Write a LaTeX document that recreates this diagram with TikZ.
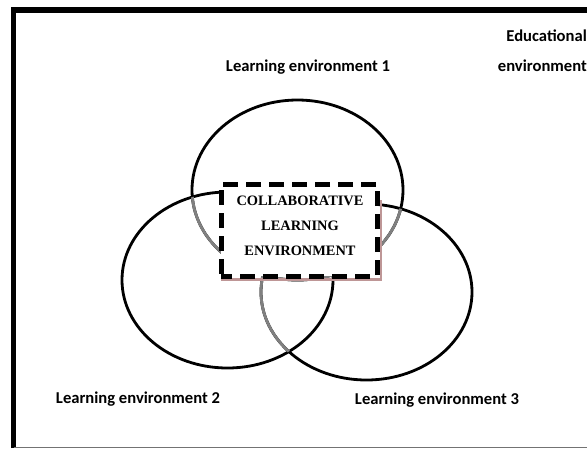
\documentclass[tikz,border=0pt]{standalone}
\usepackage{fontspec}
\setmainfont{Liberation Serif}
\newfontfamily\lblfont{Carlito}
\begin{document}
\begin{tikzpicture}[x=1pt,y=-1pt,
  ring/.style={line width=2.8pt, draw=black},
  ringgray/.style={line width=2.8pt, draw=black!50},
  lbl/.style={font=\lblfont\bfseries\fontsize{16.6}{19}\selectfont, inner sep=0pt, anchor=base},
  clebox/.style={draw=black, fill=white, line width=5pt, dash pattern=on 15pt off 8pt, dash phase=4pt,
                 minimum width=156pt, minimum height=92pt, inner sep=0pt},
  cletxt/.style={font=\bfseries\fontsize{14.4}{25}\selectfont, align=center, inner sep=0pt, anchor=base},
  shadowc/.style={draw={rgb,255:red,190;green,150;blue,150}, line width=2.5pt}
]
\useasboundingbox (0,0) rectangle (587,448);
\fill[white] (0,0) rectangle (587,448);
% frame
\draw[line width=5.5pt] (13.5,448) -- (13.5,10) -- (587,10);
\draw[line width=0.8pt, black!55] (13.5,447.6) -- (587,447.6);
% rings
\draw[ring] (297.5,190) ellipse [x radius=105.5pt, y radius=90pt];
\draw[ring] (227.5,280) ellipse [x radius=105.5pt, y radius=88pt];
\draw[ring] (366.5,292) ellipse [x radius=105.5pt, y radius=88pt];
% grey parts
\begin{scope}
  \clip (227.5,280) ellipse [x radius=105.5pt, y radius=88pt];
  \draw[ringgray] (297.5,190) ellipse [x radius=105.5pt, y radius=90pt];
  \draw[ringgray] (366.5,292) ellipse [x radius=105.5pt, y radius=88pt];
\end{scope}
\begin{scope}
  \clip (366.5,292) ellipse [x radius=105.5pt, y radius=88pt];
  \draw[ringgray] (297.5,190) ellipse [x radius=105.5pt, y radius=90pt];
\end{scope}
% box with shadow
\coordinate (shtop) at (381,200);
\coordinate (shcorner) at (381,279.5);
\coordinate (shleft) at (221,279.5);
\draw[shadowc] (shtop) -- (shcorner) -- (shleft);
\node[clebox] (box) at (299,230) {};
\node[cletxt] (cle) at (300,255) {COLLABORATIVE\\LEARNING\\ENVIRONMENT};
% labels
\node[lbl] (le1) at (308,71) {Learning environment 1};
\node[lbl, anchor=base east] (edu) at (587,41) {Educational};
\node[lbl, anchor=base east] (envr) at (587,71) {environment};
\node[lbl] (le2) at (138,403) {Learning environment 2};
\node[lbl] (le3) at (437,404) {Learning environment 3};
\end{tikzpicture}
\end{document}
